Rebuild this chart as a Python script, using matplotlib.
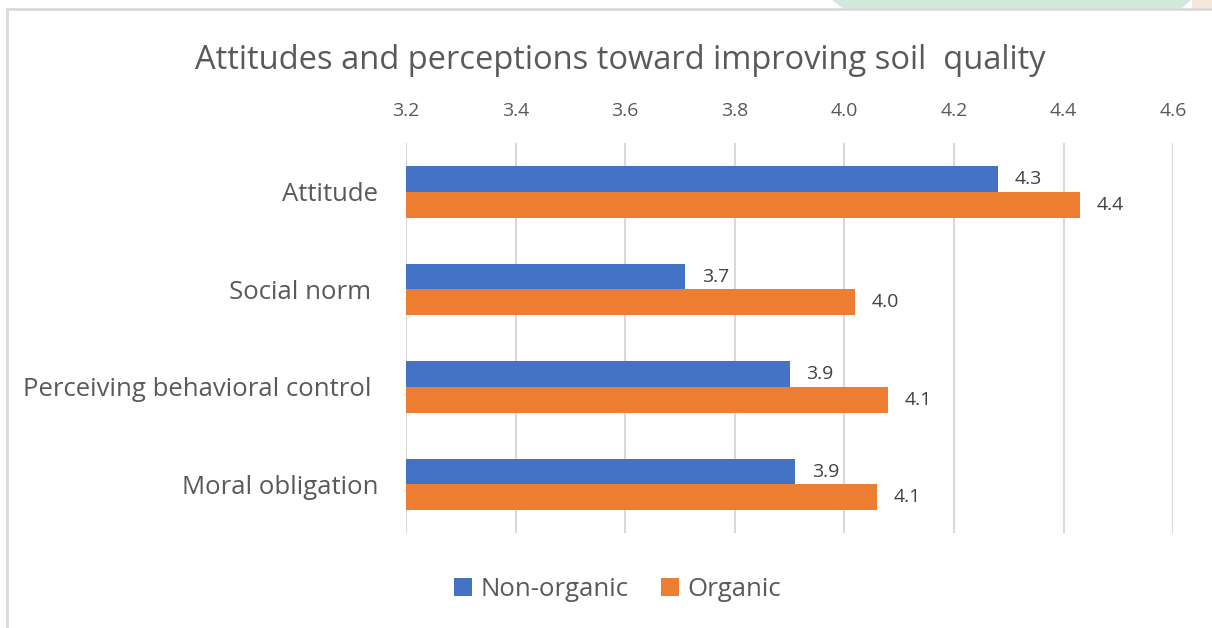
import numpy as np
import matplotlib.pyplot as plt
from matplotlib.patches import Rectangle, Polygon

plt.rcParams['font.family'] = ['Open Sans', 'DejaVu Sans']

# data
categories = ["Attitude", "Social norm ", "Perceiving behavioral control ", "Moral obligation"]
non_organic = [4.28, 3.71, 3.90, 3.91]
organic = [4.43, 4.02, 4.08, 4.06]
series_names = ["Non-organic", "Organic"]
colors = ["#4472C4", "#ED7D31"]
text_col = "#595959"
grid_col = "#D9D9D9"

fig = plt.figure(figsize=(12.12, 6.28), dpi=100)
ax = fig.add_axes([0.335, 0.151, 0.633, 0.621])

y = np.arange(len(categories))
h = 0.265
b1 = ax.barh(y - h / 2, non_organic, height=h, color=colors[0], label=series_names[0])
b2 = ax.barh(y + h / 2, organic, height=h, color=colors[1], label=series_names[1])

for bars, vals in [(b1, non_organic), (b2, organic)]:
    for bar, v in zip(bars, vals):
        ax.annotate(f"{v:.1f}", (v, bar.get_y() + bar.get_height() / 2),
                    xytext=(12, 0), textcoords="offset points",
                    va="center", ha="left", fontsize=14, color="#404040")

ax.set_xlim(3.2, 4.6)
ax.set_ylim(len(categories) - 0.5, -0.5)
ax.set_xticks(np.arange(3.2, 4.61, 0.2))
ax.xaxis.set_major_formatter(plt.FuncFormatter(lambda v, p: f"{v:.1f}"))
ax.xaxis.tick_top()
ax.tick_params(axis="x", length=0, pad=17, labelsize=14, labelcolor=text_col)
ax.set_yticks(y)
ax.set_yticklabels(categories)
ax.tick_params(axis="y", length=0, pad=20, labelsize=18.5, labelcolor=text_col)
ax.grid(axis="x", color=grid_col, linewidth=1.5)
ax.set_axisbelow(True)
for s in ax.spines.values():
    s.set_visible(False)

fig.text(0.5116, 0.904, "Attitudes and perceptions toward improving soil  quality",
         ha="center", va="center", fontsize=23.5, color=text_col)

fig.legend(handles=[b1, b2], loc="center", bbox_to_anchor=(0.5095, 0.062), ncol=2,
           frameon=False, fontsize=18.5, labelcolor=text_col, handlelength=0.7,
           handleheight=0.7, handletextpad=0.3, columnspacing=1.3)

# chart frame and decoration at top
fig.patches.append(Polygon([[833 / 1212, 1], [1190 / 1212, 1], [1180 / 1212, 1 - 9 / 628],
                            [845 / 1212, 1 - 9 / 628]], closed=True,
                           transform=fig.transFigure, color="#D3E8DC", zorder=0))
fig.patches.append(Rectangle((1192 / 1212, 1 - 9 / 628), 20 / 1212, 9 / 628,
                             transform=fig.transFigure, color="#F5E6DA", zorder=0))
fig.patches.append(Rectangle((7 / 1212, -0.05), 1.1, 1.05 - 9 / 628, transform=fig.transFigure,
                             fill=False, edgecolor=grid_col, linewidth=2))

fig.savefig("out.png", dpi=100)
